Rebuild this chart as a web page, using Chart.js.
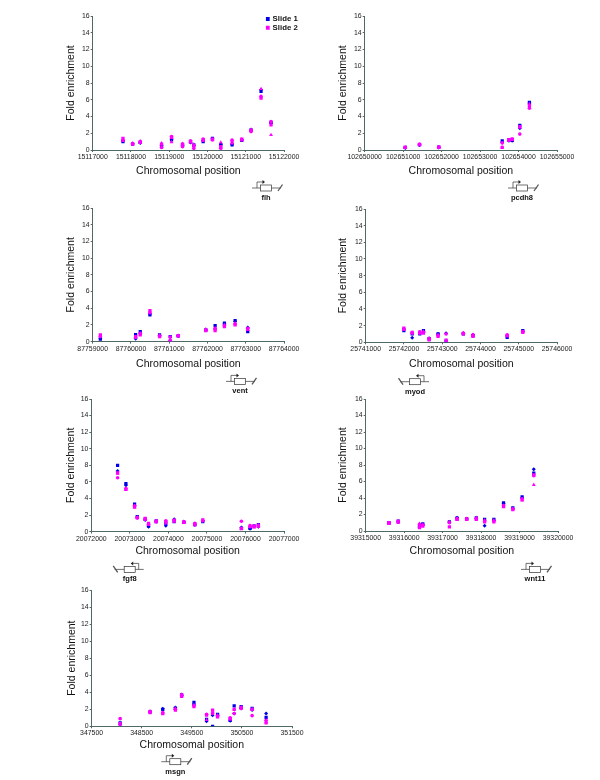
<!DOCTYPE html>
<html>
<head>
<meta charset="utf-8">
<title>Fold enrichment</title>
<script src="https://cdn.jsdelivr.net/npm/chart.js@4"></script>
<style>
    body { margin: 0; background: #fff; }
    #page { position: relative; width: 600px; height: 780px; overflow: hidden; }
    #page canvas { position: absolute; }
</style>
</head>
<body>
<div id="page"></div>
<script>
// Values
const yMax = 16;
const yStep = 2;

const flhPos = [15117791, 15118043, 15118243, 15118800, 15119061, 15119348, 15119557, 15119643, 15119887, 15120130, 15120348, 15120643, 15120896, 15121139, 15121400, 15121661];
const flhBlueSq = [1.0, 0.7, 0.9, 0.4, 1.2, 0.6, 1.0, 0.6, 1.0, 1.4, 0.6, 0.6, 1.15, 2.4, 7.0, 3.3];
const flhBlueDia = [1.1, 0.75, 0.85, 0.5, 1.3, 0.5, 0.9, 0.5, 1.1, 1.35, 0.7, 0.7, 1.2, 2.3, 7.2, 3.2];
const flhPinkSq = [1.4, 0.7, 0.9, 0.7, 1.5, 0.7, 1.0, 0.5, 1.2, 1.3, 0.4, 1.0, 1.3, 2.3, 6.2, 3.0];
const flhPinkDot = [1.2, 0.75, 1.0, 0.3, 1.6, 0.4, 1.1, 0.2, 1.3, 1.2, 0.2, 1.2, 1.2, 2.2, 6.4, 3.4];
const flhPinkTri = [1.1, 0.8, 1.05, 0.8, 0.95, 0.75, 0.9, 0.7, 1.1, 1.25, 0.9, 0.8, 1.25, 2.45, 7.3, 1.8];

const pcdh8Pos = [102651054, 102651425, 102651926, 102653575, 102653748, 102653834, 102654033, 102654283];
const pcdh8BlueSq = [0.3, 0.65, 0.35, 1.1, 1.2, 1.15, 2.95, 5.7];
const pcdh8BlueDia = [0.25, 0.6, 0.3, 0.9, 1.1, 1.1, 2.6, 5.6];
const pcdh8PinkSq = [0.3, 0.65, 0.35, 0.3, 1.2, 1.3, 2.8, 5.3];
const pcdh8PinkDot = [0.3, 0.7, 0.3, 0.85, 1.2, 1.3, 1.9, 5.0];
const pcdh8PinkTri = [0.3, 0.6, 0.35, 0.3, 1.15, 1.2, 2.7, 5.5];

const ventPos = [87759200, 87760122, 87760243, 87760496, 87760748, 87761026, 87761235, 87761957, 87762200, 87762443, 87762722, 87763052];
const ventBlueSq = [0.3, 0.85, 1.2, 3.2, 0.8, 0.6, 0.7, 1.4, 1.9, 2.2, 2.5, 1.2];
const ventBlueDia = [0.4, 0.35, 1.0, 3.3, 0.7, 0.15, 0.7, 1.35, 1.5, 2.1, 2.4, 1.7];
const ventPinkSq = [0.8, 0.6, 0.8, 3.7, 0.6, 0.1, 0.7, 1.3, 1.3, 1.8, 2.0, 1.5];
const ventPinkDot = [0.6, 0.5, 1.0, 3.5, 0.7, 0.55, 0.7, 1.4, 1.6, 1.9, 2.1, 1.6];
const ventPinkTri = [0.7, 0.55, 0.9, 3.4, 0.75, 0.2, 0.7, 1.5, 1.5, 2.0, 2.2, 1.4];

const myodPos = [25741998, 25742215, 25742415, 25742510, 25742658, 25742892, 25743101, 25743552, 25743804, 25744698, 25745106];
const myodBlueSq = [1.4, 1.0, 1.0, 1.4, 0.4, 1.0, 0.15, 1.0, 0.8, 0.6, 1.4];
const myodBlueDia = [1.6, 0.55, 1.2, 1.3, 0.5, 1.0, 1.1, 1.1, 0.9, 0.8, 1.3];
const myodPinkSq = [1.7, 1.2, 1.25, 1.1, 0.3, 0.7, 0.25, 1.0, 0.7, 0.8, 1.2];
const myodPinkDot = [1.6, 1.1, 1.1, 1.2, 0.45, 0.8, 1.0, 1.1, 0.9, 0.9, 1.3];
const myodPinkTri = [1.5, 1.15, 1.2, 1.3, 0.4, 0.9, 0.2, 1.05, 0.8, 0.75, 1.25];

const fgf8Pos = [20072682, 20072898, 20073123, 20073192, 20073399, 20073485, 20073684, 20073934, 20074150, 20074401, 20074686, 20074893, 20075895, 20076119, 20076223, 20076335];
const fgf8BlueSq = [8.0, 5.8, 3.3, 1.8, 1.5, 0.7, 1.3, 1.0, 1.2, 1.1, 0.9, 1.2, 0.4, 0.4, 0.7, 0.85];
const fgf8BlueDia = [7.3, 5.6, 3.1, 1.7, 1.4, 0.6, 1.2, 0.7, 1.5, 1.2, 0.8, 1.3, 0.5, 0.35, 0.65, 0.6];
const fgf8PinkSq = [7.1, 5.1, 3.0, 1.7, 1.6, 1.0, 1.2, 1.2, 1.3, 1.1, 0.8, 1.4, 0.35, 0.7, 0.6, 0.7];
const fgf8PinkDot = [6.5, 5.2, 3.1, 1.65, 1.5, 0.9, 1.3, 1.3, 1.4, 1.2, 1.0, 1.3, 1.25, 0.6, 0.7, 0.8];
const fgf8PinkTri = [7.0, 5.1, 2.9, 1.75, 1.4, 0.8, 1.15, 1.0, 1.2, 1.15, 0.9, 1.35, 0.4, 0.75, 0.5, 0.6];

const wnt11Pos = [39315604, 39315846, 39316399, 39316485, 39317176, 39317375, 39317625, 39317876, 39318092, 39318333, 39318584, 39318825, 39319067, 39319370];
const wnt11BlueSq = [1.0, 1.2, 0.6, 0.85, 1.1, 1.55, 1.5, 1.6, 1.4, 1.4, 3.4, 2.8, 4.15, 7.0];
const wnt11BlueDia = [1.0, 1.1, 0.5, 0.8, 1.1, 1.6, 1.45, 1.55, 0.65, 1.3, 3.3, 2.7, 4.0, 7.5];
const wnt11PinkSq = [1.0, 1.1, 0.4, 0.6, 0.5, 1.4, 1.4, 1.4, 1.1, 1.1, 3.0, 2.6, 3.8, 6.8];
const wnt11PinkDot = [0.95, 1.2, 0.8, 0.7, 1.0, 1.5, 1.5, 1.5, 1.2, 1.2, 3.1, 2.7, 3.9, 6.7];
const wnt11PinkTri = [0.9, 1.0, 0.9, 0.8, 1.1, 1.35, 1.35, 1.6, 1.3, 1.3, 2.9, 2.65, 3.7, 5.6];

const msgnPos = [348070, 348667, 348920, 349172, 349298, 349543, 349795, 349915, 350014, 350266, 350346, 350485, 350704, 350983];
const msgnBlueSq = [0.4, 1.7, 2.0, 2.1, 3.7, 2.8, 0.8, 0.0, 1.4, 0.7, 2.4, 2.3, 2.1, 1.05];
const msgnBlueDia = [0.2, 1.7, 2.05, 2.2, 3.6, 2.6, 0.6, 1.3, 1.3, 0.65, 1.5, 2.1, 1.9, 1.5];
const msgnPinkSq = [0.3, 1.6, 1.5, 1.9, 3.5, 2.3, 1.3, 1.9, 1.1, 0.9, 2.0, 2.1, 2.0, 0.4];
const msgnPinkDot = [0.9, 1.75, 1.6, 2.0, 3.7, 2.4, 1.4, 1.5, 1.2, 1.0, 1.5, 2.2, 1.25, 0.7];
const msgnPinkTri = [0.2, 1.7, 1.55, 2.1, 3.75, 2.5, 0.75, 1.7, 1.3, 0.8, 2.0, 2.25, 2.0, 0.5];

// Layout of each panel on the page, in pixels
const panels = [
    { id: 'flh', pos: flhPos, blueSq: flhBlueSq, blueDia: flhBlueDia, pinkSq: flhPinkSq, pinkDot: flhPinkDot, pinkTri: flhPinkTri,
      xMin: 15117000, xMax: 15122000, xStep: 1000, left: 92.7, right: 284, top: 16, bottom: 150, titleX: 72, titleY: 170, geneX: 266, geneY: 188, flip: false, legend: true },
    { id: 'pcdh8', pos: pcdh8Pos, blueSq: pcdh8BlueSq, blueDia: pcdh8BlueDia, pinkSq: pcdh8PinkSq, pinkDot: pcdh8PinkDot, pinkTri: pcdh8PinkTri,
      xMin: 102650000, xMax: 102655000, xStep: 1000, left: 364.7, right: 557.7, top: 16, bottom: 150, titleX: 344, titleY: 170, geneX: 522, geneY: 188, flip: false },
    { id: 'vent', pos: ventPos, blueSq: ventBlueSq, blueDia: ventBlueDia, pinkSq: ventPinkSq, pinkDot: ventPinkDot, pinkTri: ventPinkTri,
      xMin: 87759000, xMax: 87764000, xStep: 1000, left: 92.7, right: 284, top: 208.3, bottom: 342.3, titleX: 72, titleY: 364, geneX: 240, geneY: 381.7, flip: false },
    { id: 'myod', pos: myodPos, blueSq: myodBlueSq, blueDia: myodBlueDia, pinkSq: myodPinkSq, pinkDot: myodPinkDot, pinkTri: myodPinkTri,
      xMin: 25741000, xMax: 25746000, xStep: 1000, left: 365.7, right: 557.7, top: 209, bottom: 343, titleX: 344, titleY: 364, geneX: 415, geneY: 381.7, flip: true },
    { id: 'fgf8', pos: fgf8Pos, blueSq: fgf8BlueSq, blueDia: fgf8BlueDia, pinkSq: fgf8PinkSq, pinkDot: fgf8PinkDot, pinkTri: fgf8PinkTri,
      xMin: 20072000, xMax: 20077000, xStep: 1000, left: 91.3, right: 284, top: 399.3, bottom: 532.3, titleX: 72, titleY: 551, geneX: 129.7, geneY: 569.7, flip: true },
    { id: 'wnt11', pos: wnt11Pos, blueSq: wnt11BlueSq, blueDia: wnt11BlueDia, pinkSq: wnt11PinkSq, pinkDot: wnt11PinkDot, pinkTri: wnt11PinkTri,
      xMin: 39315000, xMax: 39320000, xStep: 1000, left: 365.7, right: 558.7, top: 399.3, bottom: 531.7, titleX: 344, titleY: 551, geneX: 535, geneY: 569.7, flip: false },
    { id: 'msgn', pos: msgnPos, blueSq: msgnBlueSq, blueDia: msgnBlueDia, pinkSq: msgnPinkSq, pinkDot: msgnPinkDot, pinkTri: msgnPinkTri,
      xMin: 347500, xMax: 351500, xStep: 1000, left: 91.3, right: 292, top: 590, bottom: 727, titleX: 72.7, titleY: 745, geneX: 175, geneY: 761.7, flip: false }
];

const BLUE = '#0000e6';
const PINK = '#ff00ff';
const AXIS = '#4f6a66';
const TEXT = '#222222';

// Small promoter + gene drawing under each plot
const genePlugin = {
    id: 'gene',
    afterDraw(chart, args, opts) {
        const ctx = chart.ctx;
        const dir = opts.flip ? -1 : 1;
        const x = opts.x;
        const y = opts.y;
        ctx.save();
        ctx.strokeStyle = '#333';
        ctx.lineWidth = 0.7;
        ctx.beginPath();
        ctx.moveTo(x - 14 * dir, y);
        ctx.lineTo(x - 5.5 * dir, y);
        ctx.moveTo(x + 5.5 * dir, y);
        ctx.lineTo(x + 15 * dir, y);
        ctx.moveTo(x - 9 * dir, y);
        ctx.lineTo(x - 9 * dir, y - 6);
        ctx.lineTo(x - 3 * dir, y - 6);
        ctx.stroke();
        ctx.strokeRect(x - 5.5, y - 3, 11, 6);
        ctx.fillStyle = '#222';
        ctx.beginPath();
        ctx.moveTo(x - 1 * dir, y - 6);
        ctx.lineTo(x - 3.5 * dir, y - 8);
        ctx.lineTo(x - 3.5 * dir, y - 4);
        ctx.closePath();
        ctx.fill();
        ctx.lineWidth = 1.3;
        ctx.strokeStyle = '#555';
        ctx.beginPath();
        ctx.moveTo(x + 12 * dir, y + 3);
        ctx.lineTo(x + 16.5 * dir, y - 3.5);
        ctx.stroke();
        ctx.fillStyle = '#111';
        ctx.font = 'bold 7.5px "Liberation Sans"';
        ctx.textAlign = 'center';
        ctx.textBaseline = 'middle';
        ctx.fillText(opts.name, x, y + 10);
        ctx.restore();
    }
};

// The legend sits over the top right corner and runs past the plot
const legendPlacePlugin = {
    id: 'legendPlace',
    afterLayout(chart, args, opts) {
        if (!opts.x) return;
        chart.legend.left = opts.x;
        chart.legend.right = opts.x + 50;
        chart.legend.top = opts.y;
        chart.legend.bottom = opts.y + 30;
    }
};

function pointsOf(pos, values) {
    return pos.map((x, i) => ({ x: x, y: values[i] }));
}

function makeDataset(label, pos, values, color, style, radius) {
    return {
        label: label,
        data: pointsOf(pos, values),
        backgroundColor: color,
        borderColor: color,
        borderWidth: 0,
        pointStyle: style,
        pointRadius: radius
    };
}

function makePanel(p) {
    const canvasLeft = p.titleX - 7;
    const canvasTop = p.top - 10;
    const canvasRight = p.right + 40;
    const canvasBottom = p.geneY + 18;
    const canvas = document.createElement('canvas');
    canvas.width = canvasRight - canvasLeft;
    canvas.height = canvasBottom - canvasTop;
    canvas.style.left = canvasLeft + 'px';
    canvas.style.top = canvasTop + 'px';
    canvas.style.width = canvas.width + 'px';
    canvas.style.height = canvas.height + 'px';
    document.getElementById('page').appendChild(canvas);

    const axisHeight = p.titleY + 7 - p.bottom;

    new Chart(canvas.getContext('2d'), {
        type: 'scatter',
        data: {
            // first dataset is painted last, so Slide 2 stays on top
            datasets: [
                makeDataset('Slide 2', p.pos, p.pinkSq, PINK, 'rect', 2.3),
                makeDataset('Slide 2 b', p.pos, p.pinkDot, PINK, 'circle', 1.8),
                makeDataset('Slide 2 c', p.pos, p.pinkTri, PINK, 'triangle', 2.2),
                makeDataset('Slide 1', p.pos, p.blueSq, BLUE, 'rect', 2.3),
                makeDataset('Slide 1 b', p.pos, p.blueDia, BLUE, 'rectRot', 2)
            ]
        },
        options: {
            responsive: false,
            animation: false,
            layout: {
                padding: { left: 0, top: 10, right: 40, bottom: canvasBottom - p.bottom - axisHeight }
            },
            plugins: {
                tooltip: { enabled: false },
                legend: {
                    display: !!p.legend,
                    position: 'chartArea',
                    align: 'start',
                    labels: {
                        usePointStyle: true,
                        pointStyle: 'rect',
                        boxHeight: 4,
                        boxWidth: 2,
                        padding: 1,
                        color: '#111',
                        font: { family: '"Liberation Sans"', size: 7.8, weight: 'bold' },
                        filter: item => item.text === 'Slide 1' || item.text === 'Slide 2',
                        sort: (a, b) => (a.text < b.text ? -1 : 1)
                    }
                },
                gene: { x: p.geneX - canvasLeft, y: p.geneY - canvasTop, flip: p.flip, name: p.id },
                legendPlace: p.legend ? { x: 265.7 - canvasLeft, y: 14 - canvasTop } : {}
            },
            scales: {
                x: {
                    type: 'linear',
                    min: p.xMin,
                    max: p.xMax,
                    afterFit: scale => { scale.height = axisHeight; },
                    border: { color: AXIS, width: 1 },
                    grid: { drawOnChartArea: false, tickLength: 2, color: AXIS },
                    ticks: {
                        stepSize: p.xStep,
                        autoSkip: false,
                        maxRotation: 0,
                        padding: 1,
                        color: TEXT,
                        font: { family: '"Liberation Sans"', size: 6.9 },
                        callback: value => String(value)
                    },
                    title: {
                        display: true,
                        text: 'Chromosomal position',
                        color: '#111',
                        padding: 0,
                        font: { family: '"Liberation Sans"', size: 10.5 }
                    }
                },
                y: {
                    min: 0,
                    max: yMax,
                    afterFit: scale => { scale.width = p.left - canvasLeft; },
                    border: { color: AXIS, width: 1 },
                    grid: { drawOnChartArea: false, tickLength: 2, color: AXIS },
                    ticks: {
                        stepSize: yStep,
                        padding: 1,
                        color: TEXT,
                        font: { family: '"Liberation Sans"', size: 6.9 }
                    },
                    title: {
                        display: true,
                        text: 'Fold enrichment',
                        color: '#111',
                        padding: 0,
                        font: { family: '"Liberation Sans"', size: 10.5 }
                    }
                }
            }
        },
        plugins: [genePlugin, legendPlacePlugin]
    });
}

document.addEventListener('DOMContentLoaded', function() {
    panels.forEach(makePanel);
});
</script>
</body>
</html>
